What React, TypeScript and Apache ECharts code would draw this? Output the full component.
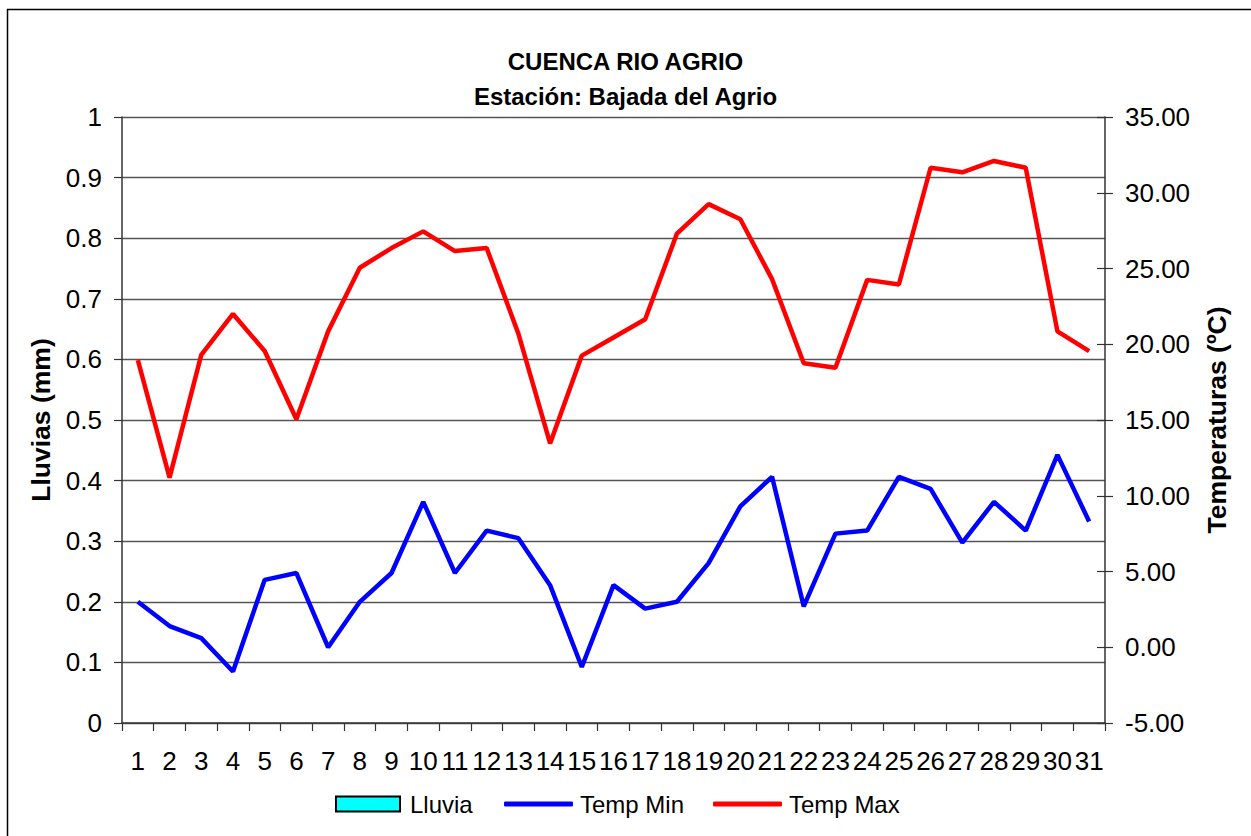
import React, { useEffect, useRef } from "react";
import * as echarts from "echarts";

const days = ["1","2","3","4","5","6","7","8","9","10","11","12","13","14","15","16","17","18","19","20","21","22","23","24","25","26","27","28","29","30","31"];
const lluvia = [0,0,0,0,0,0,0,0,0,0,0,0,0,0,0,0,0,0,0,0,0,0,0,0,0,0,0,0,0,0,0];
const tempMin = [3.0,1.4,0.6,-1.6,4.45,4.9,0.0,3.0,4.9,9.6,4.9,7.7,7.2,4.1,-1.3,4.1,2.55,3.0,5.55,9.3,11.25,2.7,7.5,7.7,11.25,10.45,6.9,9.6,7.7,12.7,8.3];
const tempMax = [18.95,11.2,19.3,22.0,19.55,15.05,20.85,25.05,26.35,27.45,26.15,26.35,20.7,13.45,19.25,20.45,21.65,27.3,29.25,28.25,24.3,18.75,18.45,24.25,23.95,31.65,31.35,32.1,31.65,20.85,19.55];

const FONT = "'Liberation Sans', Arial, sans-serif";

export default function App() {
  const ref = useRef<HTMLDivElement>(null);
  useEffect(() => {
    if (!ref.current) return;
    const chart = echarts.init(ref.current, undefined, { renderer: "svg" });
    chart.setOption({
      animation: false,
      backgroundColor: "#ffffff",
      textStyle: { fontFamily: FONT },
      title: {
        text: "CUENCA RIO AGRIO\nEstación: Bajada del Agrio",
        left: "center",
        top: 44,
        padding: 0,
        textStyle: { fontFamily: FONT, fontSize: 24, fontWeight: "bold", color: "#000", lineHeight: 35 },
      },
      graphic: [
        {
          type: "rect",
          shape: { x: 7.5, y: 9.5, width: 1250, height: 900 },
          style: { fill: "none", stroke: "#000", lineWidth: 1.5 },
          silent: true,
        },
      ],
      grid: { left: 122, right: 146, top: 117, bottom: 113 },
      legend: [
        {
          left: 335,
          top: 792,
          padding: 0,
          itemWidth: 64,
          itemHeight: 15,
          textStyle: { fontFamily: FONT, fontSize: 24, color: "#000", padding: [0, 0, 0, 5] },
          data: [
            { name: "Lluvia", icon: "rect", itemStyle: { color: "#00ffff", borderColor: "#000", borderWidth: 2 } },
          ],
        },
        {
          left: 504,
          top: 792,
          padding: 0,
          itemWidth: 69,
          itemHeight: 5,
          itemGap: 29,
          textStyle: { fontFamily: FONT, fontSize: 24, color: "#000", padding: [0, 0, 0, 2] },
          data: [
            { name: "Temp Min", icon: "roundRect" },
            { name: "Temp Max", icon: "roundRect" },
          ],
        },
      ],
      xAxis: {
        type: "category",
        data: days,
        boundaryGap: true,
        axisLine: { lineStyle: { color: "#333", width: 1.5 } },
        axisTick: { show: true, length: 8, inside: false, lineStyle: { color: "#333", width: 1.2 } },
        axisLabel: { interval: 0, fontFamily: FONT, fontSize: 26, color: "#000", margin: 25 },
        splitLine: { show: false },
      },
      yAxis: [
        {
          type: "value",
          min: 0,
          max: 1,
          interval: 0.1,
          position: "left",
          name: "Lluvias (mm)",
          nameLocation: "middle",
          nameGap: 66,
          nameRotate: 90,
          nameTextStyle: { fontFamily: FONT, fontSize: 26.5, fontWeight: "bold", color: "#000" },
          axisLine: { show: true, lineStyle: { color: "#333", width: 1.5 } },
          axisTick: { show: true, length: 8, lineStyle: { color: "#333", width: 1.2 } },
          axisLabel: {
            fontFamily: FONT,
            fontSize: 26,
            color: "#000",
            margin: 20,
            formatter: (v: number) => String(Math.round(v * 10) / 10),
          },
          splitLine: { show: true, lineStyle: { color: "#555", width: 1.3 } },
        },
        {
          type: "value",
          min: -5,
          max: 35,
          interval: 5,
          position: "right",
          name: "Temperaturas (ºC)",
          nameLocation: "middle",
          nameGap: 98,
          nameRotate: 90,
          nameTextStyle: { fontFamily: FONT, fontSize: 26.5, fontWeight: "bold", color: "#000" },
          axisLine: { show: true, lineStyle: { color: "#333", width: 1.5 } },
          axisTick: { show: true, length: 8, lineStyle: { color: "#333", width: 1.2 } },
          axisLabel: {
            fontFamily: FONT,
            fontSize: 26,
            color: "#000",
            margin: 20,
            formatter: (v: number) => v.toFixed(2),
          },
          splitLine: { show: false },
        },
        {
          type: "value",
          min: -5,
          max: 35,
          interval: 5,
          position: "right",
          axisLine: { show: false },
          axisTick: { show: true, inside: true, length: 8, lineStyle: { color: "#333", width: 1.2 } },
          axisLabel: { show: false },
          splitLine: { show: false },
        },
      ],
      series: [
        {
          name: "Lluvia",
          type: "bar",
          yAxisIndex: 0,
          data: lluvia,
          itemStyle: { color: "#00ffff" },
          barWidth: "50%",
        },
        {
          name: "Temp Min",
          type: "line",
          yAxisIndex: 1,
          data: tempMin,
          symbol: "none",
          showSymbol: false,
          lineStyle: { color: "#0000ff", width: 4.5 },
          itemStyle: { color: "#0000ff" },
        },
        {
          name: "Temp Max",
          type: "line",
          yAxisIndex: 1,
          data: tempMax,
          symbol: "none",
          showSymbol: false,
          lineStyle: { color: "#ff0000", width: 4.5 },
          itemStyle: { color: "#ff0000" },
        },
      ],
    });
    return () => chart.dispose();
  }, []);
  return (
    <div
      ref={ref}
      style={{ position: "fixed", left: 0, top: 0, width: 1251, height: 836 }}
    />
  );
}
